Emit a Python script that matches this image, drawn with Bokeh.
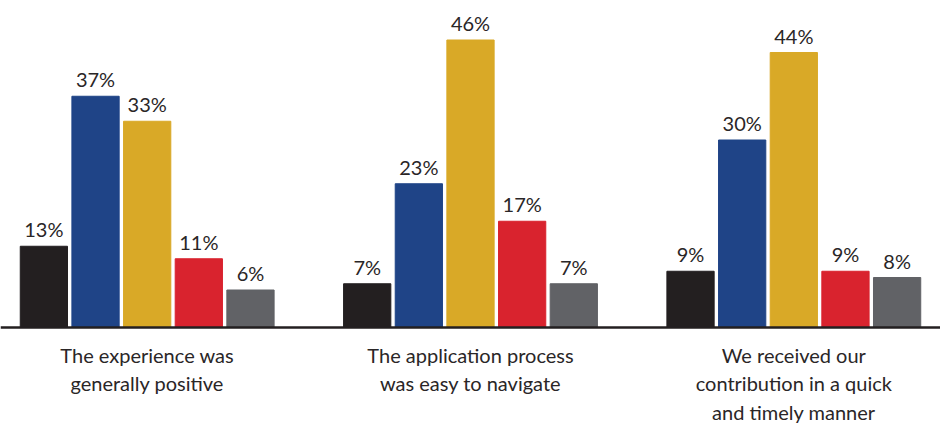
from bokeh.plotting import figure
from bokeh.models import FactorRange, Range1d, ColumnDataSource, Span
from bokeh.core.properties import value
from bokeh.embed import file_html
from bokeh.resources import INLINE

groups = ["g1", "g2", "g3"]
group_labels = [
    "The experience was\ngenerally positive",
    "The application process\nwas easy to navigate",
    "We received our\ncontribution in a quick\nand timely manner",
]
series = ["s1", "s2", "s3", "s4", "s5"]
series_colors = ["#231f20", "#1f4487", "#d9a927", "#d9232e", "#616266"]
values = {
    "g1": [13, 37, 33, 11, 6],
    "g2": [7, 23, 46, 17, 7],
    "g3": [9, 30, 44, 9, 8],
}

FONT = "Lato"
TEXT_COLOR = "#2a2627"

xs, tops, colors, labels = [], [], [], []
for g in groups:
    for s, c, v in zip(series, series_colors, values[g]):
        xs.append((g, s))
        tops.append(v)
        colors.append(c)
        labels.append(f"{v}%")

src = ColumnDataSource(dict(x=xs, top=tops, color=colors, label=labels))

x_range = FactorRange(*xs, group_padding=1.26, factor_padding=0.0,
                      range_padding=0.34, range_padding_units="absolute")

p = figure(width=940, height=424, x_range=x_range, y_range=Range1d(-15.52, 52.32),
           output_backend="svg", toolbar_location=None, min_border=0)
p.axis.visible = False
p.grid.visible = False
p.outline_line_color = None
p.background_fill_color = "white"
p.border_fill_color = "white"

p.vbar(x="x", top="top", bottom=0, width=0.915, color="color", source=src)

p.add_layout(Span(location=0, dimension="width", line_color="#231f20", line_width=2.5))

p.text(x="x", y="top", text="label", source=src, text_font=value(FONT),
       text_font_size="20px", text_color=TEXT_COLOR, text_align="center",
       text_baseline="alphabetic", y_offset=-17)

lsrc = ColumnDataSource(dict(x=groups, y=[0] * len(groups), text=group_labels))
p.text(x="x", y="y", text="text", source=lsrc, text_font=value(FONT),
       text_font_size="20px", text_color=TEXT_COLOR, text_align="center",
       text_baseline="top", text_line_height=1.2, y_offset=15)

open("out.html", "w").write(file_html(p, INLINE))
